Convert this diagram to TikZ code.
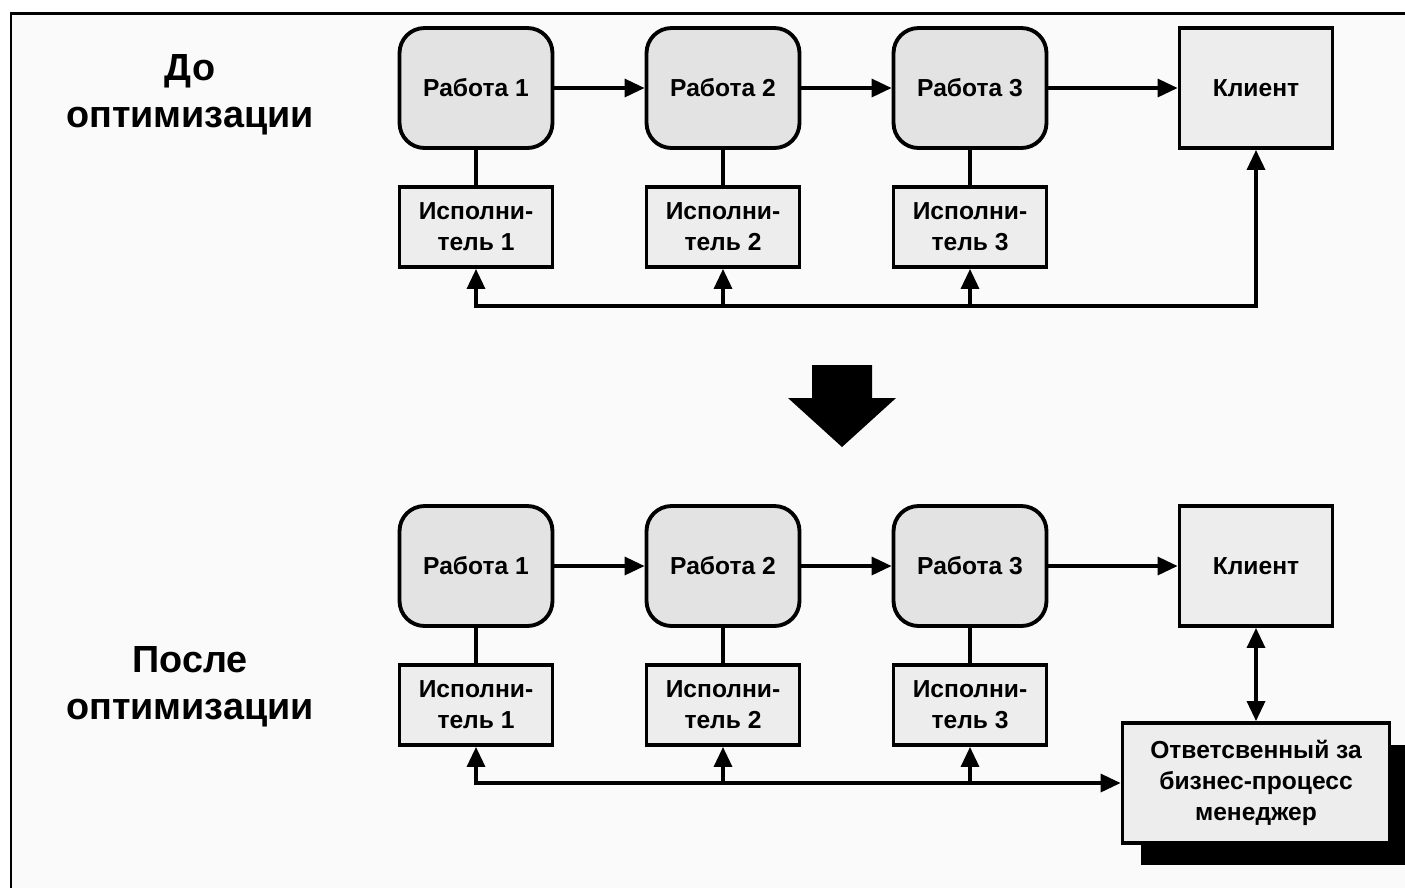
\documentclass[tikz,border=0pt]{standalone}
\usepackage{fontspec}
\setmainfont{Liberation Sans}
\usetikzlibrary{positioning,calc,arrows.meta,shapes,shadows}

\tikzset{
  rabota/.style={draw,line width=2.2pt,rounded corners=0.5cm,fill=black!11,
    minimum width=3.06cm,minimum height=2.4cm,font=\fontsize{14}{18}\selectfont\bfseries},
  ispoln/.style={draw,line width=2.2pt,fill=black!7,align=center,inner sep=1pt,
    minimum width=3.06cm,minimum height=1.6cm,font=\fontsize{14}{17.5}\selectfont\bfseries},
  klientbox/.style={ispoln,minimum height=2.4cm},
  titul/.style={align=center,font=\fontsize{21.5}{27}\selectfont\bfseries},
  svyaz/.style={line width=1.9pt},
  tip/.tip={Triangle[length=0.4cm,width=0.36cm]}
}

\begin{document}
\begin{tikzpicture}[x=0.02cm,y=-0.02cm]
  \useasboundingbox (0,0) rectangle (1405,887);
  \draw[line width=1.7pt,fill=black!2] (11,13) rectangle (1440,920);

  % до оптимизации
  \node[titul] (do) at (190,95) {До\\оптимизации};
  \foreach \n/\x in {1/476,2/723,3/970} {
    \node[rabota] (r\n) at (\x,88) {Работа \n};
    \node[ispoln] (i\n) at (\x,227) {Исполни-\\тель \n};
    \draw[svyaz] (r\n) -- (i\n);
  }
  \node[klientbox] (klient) at (1256,88) {Клиент};
  \draw[svyaz,-tip] (r1) -- (r2);
  \draw[svyaz,-tip] (r2) -- (r3);
  \draw[svyaz,-tip] (r3) -- (klient);
  \coordinate (shina) at (476,306);
  \draw[svyaz,tip-tip] (i1.south) -- (shina) -| (klient.south);
  \draw[svyaz,-tip] (shina -| i2.south) -- (i2.south);
  \draw[svyaz,-tip] (shina -| i3.south) -- (i3.south);

  % большая стрелка вниз
  \fill (812,365) -- (872,365) -- (872,398) -- (896,398) -- (842,447)
    -- (788,398) -- (812,398) -- cycle;

  % после оптимизации
  \node[titul] (posle) at (190,687) {После\\оптимизации};
  \foreach \n/\x in {1/476,2/723,3/970} {
    \node[rabota] (p\n) at (\x,566) {Работа \n};
    \node[ispoln] (j\n) at (\x,705) {Исполни-\\тель \n};
    \draw[svyaz] (p\n) -- (j\n);
  }
  \node[klientbox] (klient2) at (1256,566) {Клиент};
  \node[ispoln,minimum width=5.34cm,minimum height=2.4cm,
    drop shadow={shadow xshift=0.36cm,shadow yshift=-0.44cm,opacity=1,fill=black}]
    (menedzher) at (1256,783) {Ответсвенный за\\бизнес-процесс\\менеджер};
  \draw[svyaz,-tip] (p1) -- (p2);
  \draw[svyaz,-tip] (p2) -- (p3);
  \draw[svyaz,-tip] (p3) -- (klient2);
  \draw[svyaz,tip-tip] (klient2) -- (menedzher);
  \draw[svyaz,tip-tip] (j1.south) |- (menedzher.west);
  \draw[svyaz,-tip] (menedzher.west -| j2.south) -- (j2.south);
  \draw[svyaz,-tip] (menedzher.west -| j3.south) -- (j3.south);
\end{tikzpicture}
\end{document}
